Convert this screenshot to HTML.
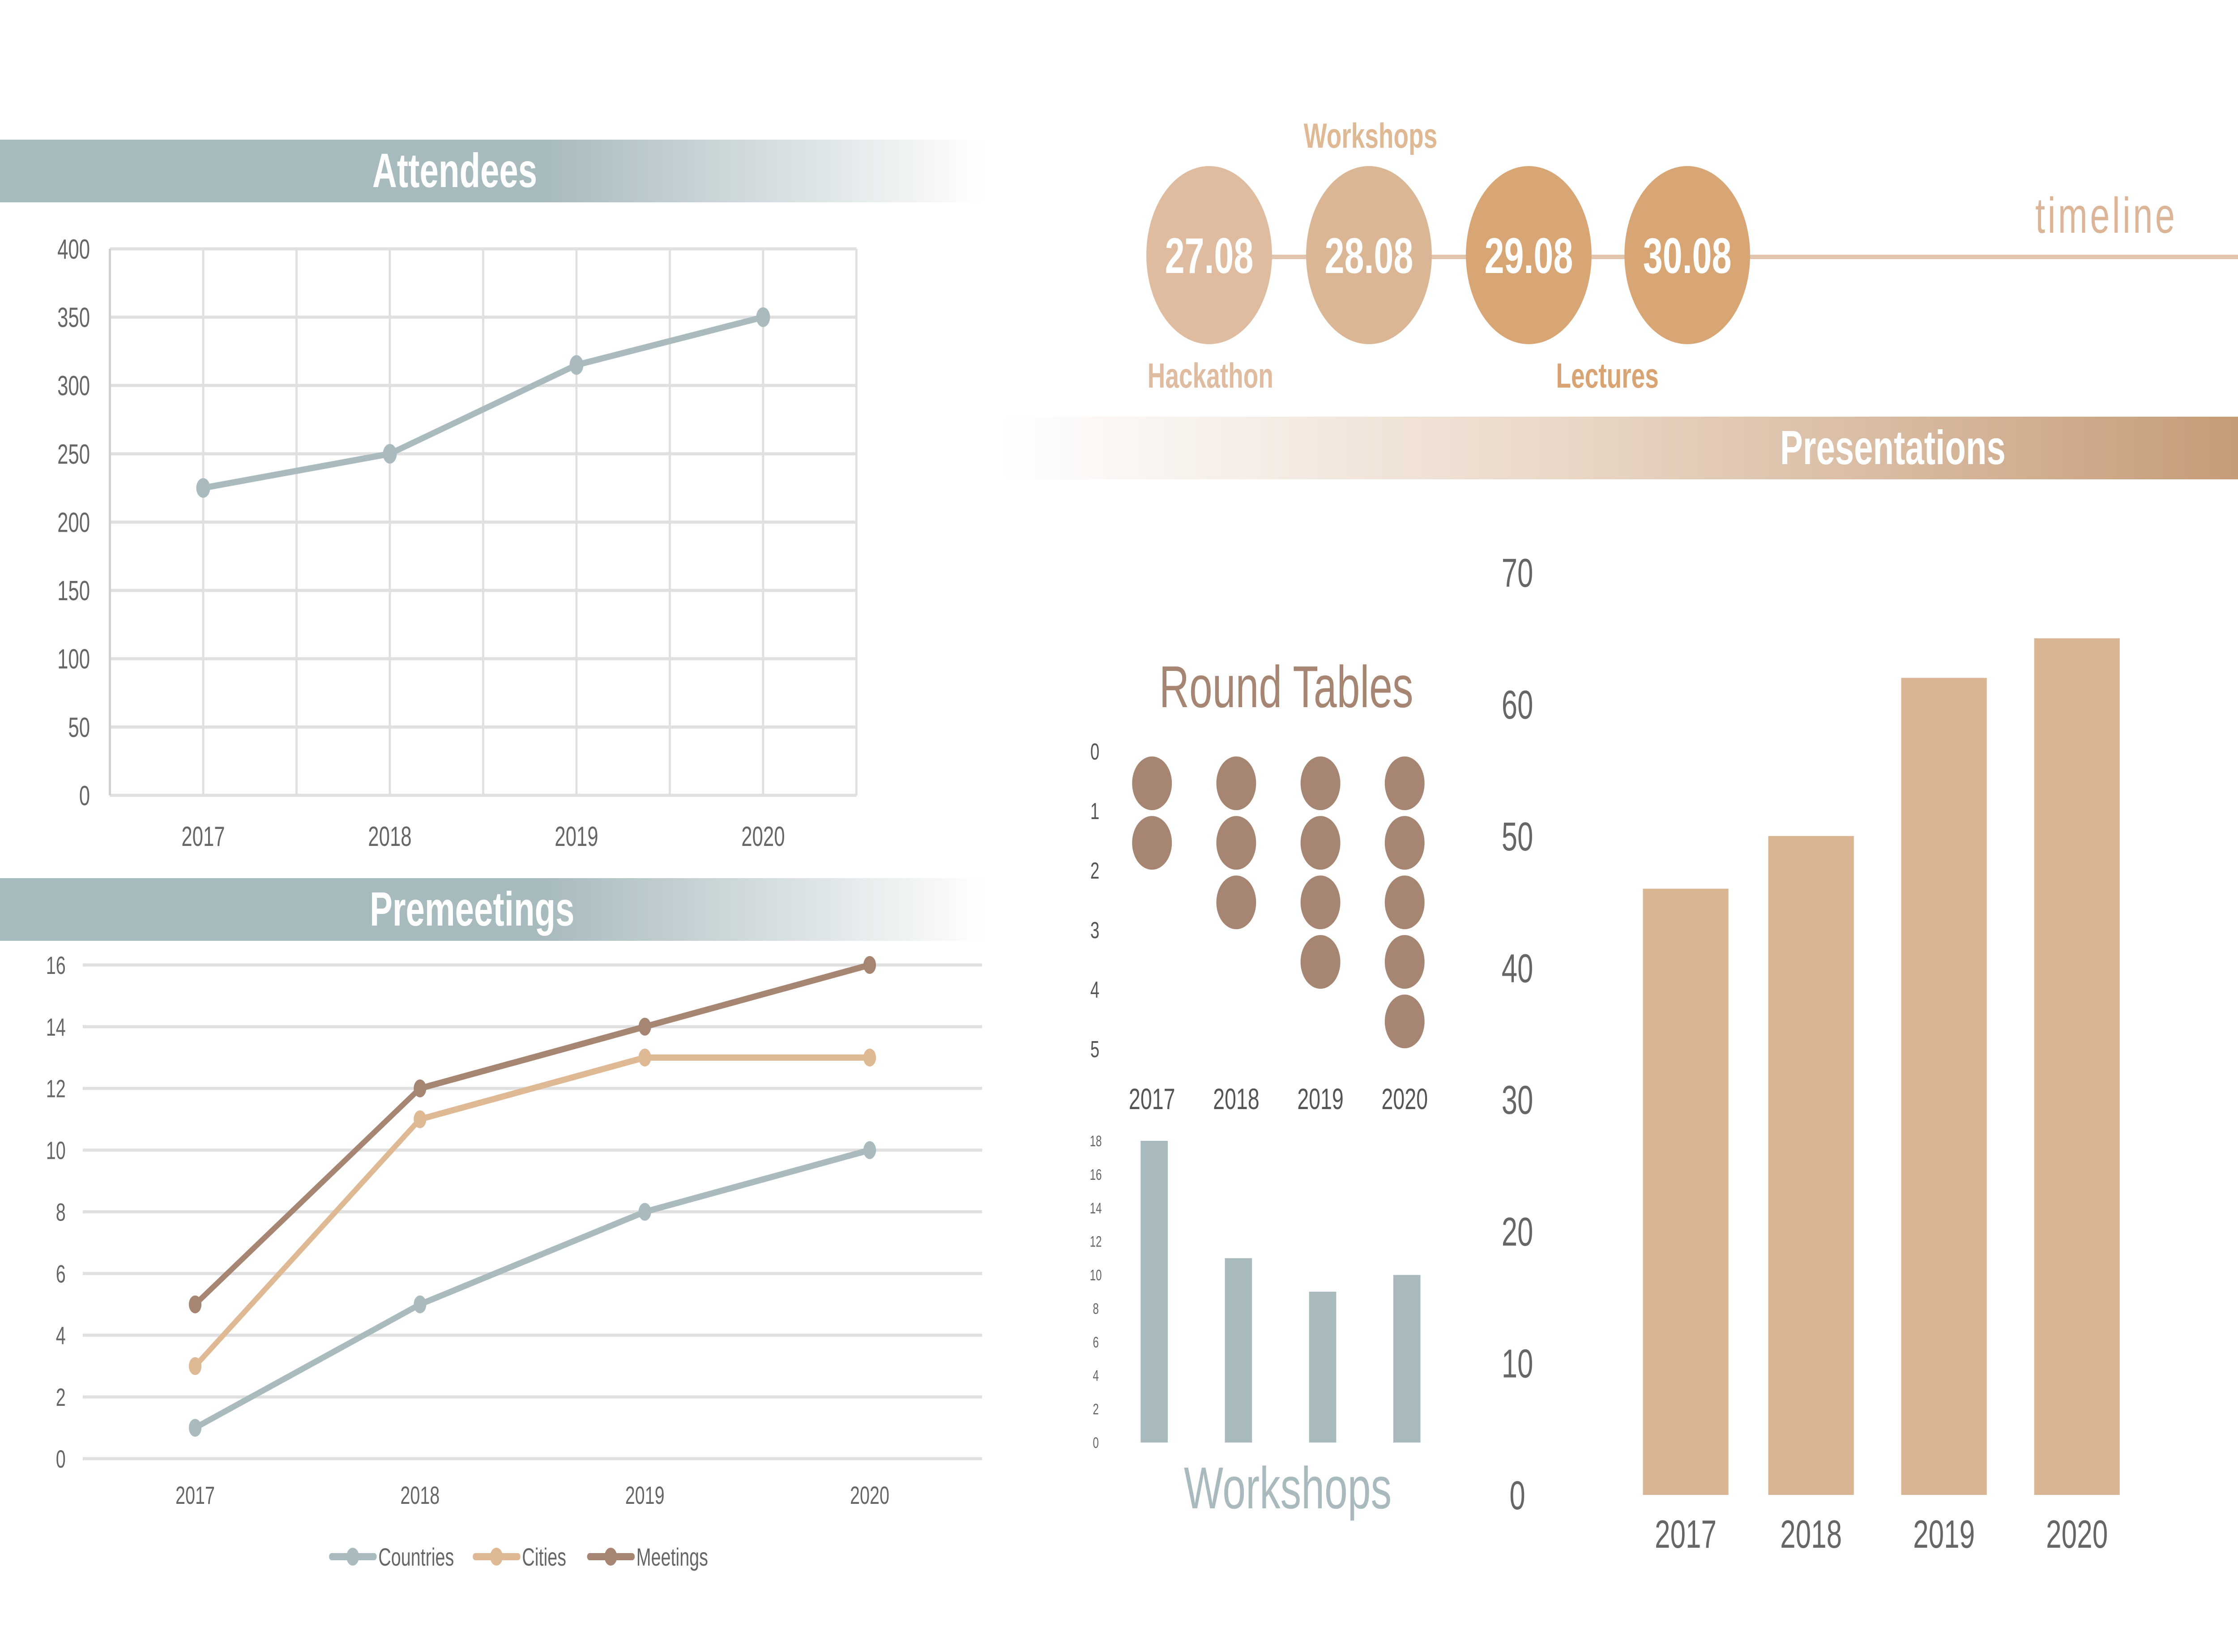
<!DOCTYPE html>
<html><head><meta charset="utf-8"><meta name="viewport" content="width=7087, height=3691, initial-scale=1"><style>
html,body{margin:0;padding:0;background:#fff;width:100%;height:100%;overflow:hidden}
svg{display:block;position:absolute;left:0;top:0;width:100vw;height:100vh}
text{font-family:"Liberation Sans",sans-serif}
</style></head><body>
<svg id="s" viewBox="0 0 7087 3691" preserveAspectRatio="none" xmlns="http://www.w3.org/2000/svg">
<defs>
<linearGradient id="gBlue" x1="0" x2="1" y1="0" y2="0"><stop offset="0" stop-color="#a7babe"/><stop offset="0.55" stop-color="#a7babe"/><stop offset="1" stop-color="#ffffff"/></linearGradient>
<linearGradient id="gTan" x1="0" x2="1" y1="0" y2="0"><stop offset="0" stop-color="#ffffff"/><stop offset="0.45" stop-color="#ead8c8"/><stop offset="1" stop-color="#c69c77"/></linearGradient>
</defs>
<rect x="0" y="312" width="3120" height="140" fill="url(#gBlue)"/>
<text x="1440" y="418" font-size="108" font-weight="bold" fill="#fff" text-anchor="middle">Attendees</text>
<rect x="0" y="1962" width="3120" height="140" fill="url(#gBlue)"/>
<text x="1495" y="2068" font-size="108" font-weight="bold" fill="#fff" text-anchor="middle">Premeetings</text>
<rect x="3164" y="931" width="3923" height="140" fill="url(#gTan)"/>
<text x="5994" y="1037" font-size="108" font-weight="bold" fill="#fff" text-anchor="middle">Presentations</text>
<line x1="3829" y1="574" x2="7087" y2="574" stroke="#e1c6ad" stroke-width="10"/>
<text x="6670" y="520" font-size="112" fill="#dcb497" text-anchor="middle" letter-spacing="8" font-weight="300">timeline</text>
<g id="att"></g><g id="pre"></g><g id="tl"></g><g id="rt"></g><g id="ws"></g><g id="pr"></g>
</svg>
<script>
const NS="http://www.w3.org/2000/svg";
function el(p,t,a){const e=document.createElementNS(NS,t);for(const k in a)e.setAttribute(k,a[k]);p.appendChild(e);return e;}
function tx(p,x,y,s,o){const e=el(p,'text',Object.assign({x:x,y:y},o));e.textContent=s;return e;}

const attYears=["2017","2018","2019","2020"];
const attValues=[225,250,315,350];
const attTicks=[0,50,100,150,200,250,300,350,400];
const preYears=["2017","2018","2019","2020"];
const preCountries=[1,5,8,10];
const preCities=[3,11,13,13];
const preMeetings=[5,12,14,16];
const preTicks=[0,2,4,6,8,10,12,14,16];
const tlDates=["27.08","28.08","29.08","30.08"];
const tlColors=["#dfbc9f","#dab695","#d8a574","#d8a574"];
const rtYears=["2017","2018","2019","2020"];
const rtValues=[2,3,4,5];
const rtTicks=[0,1,2,3,4,5];
const wsYears=["2017","2018","2019","2020"];
const wsValues=[18,11,9,10];
const wsTicks=[0,2,4,6,8,10,12,14,16,18];
const prYears=["2017","2018","2019","2020"];
const prValues=[46,50,62,65];
const prTicks=[0,10,20,30,40,50,60,70];

(function(){
 const g=document.getElementById('att');
 const L=348,R=2712,T=556,B=1777,max=400;
 const y=v=>B-(v/max)*(B-T);
 const step=(R-L)/attYears.length;
 const x=i=>L+step*(i+0.5);
 attTicks.forEach(t=>{
  const l=el(g,'line',{x1:L,x2:R,y1:y(t),y2:y(t),stroke:'#e0e0e0','stroke-width':7});
  
  const e=tx(g,285,y(t)+22,String(t),{'font-size':62,fill:'#666','text-anchor':'end'});
  
 });
 for(let k=0;k<=attYears.length*2;k++){
  const xx=L+step/2*k;
  const l=el(g,'line',{x1:xx,x2:xx,y1:T,y2:B,stroke:k==0?'#d0d0d0':'#e0e0e0','stroke-width':7});
  
 }
 const p=el(g,'polyline',{points:attValues.map((v,i)=>x(i)+','+y(v)).join(' '),fill:'none',stroke:'#a9bbbf','stroke-width':14});
 
 attValues.forEach((v,i)=>{
  const c=el(g,'circle',{cx:x(i),cy:y(v),r:22,fill:'#a9bbbf'});
  
  const e=tx(g,x(i),1890,attYears[i],{'font-size':62,fill:'#666','text-anchor':'middle'});
  
 });
})();

(function(){
 const g=document.getElementById('pre');
 const L=262,R=3110,T=2156,B=3259,max=16;
 const y=v=>B-(v/max)*(B-T);
 const step=(R-L)/preYears.length;
 const x=i=>L+step*(i+0.5);
 preTicks.forEach(t=>{
  const l=el(g,'line',{x1:L,x2:R,y1:y(t),y2:y(t),stroke:'#e0e0e0','stroke-width':7});
  
  const e=tx(g,208,y(t)+20,String(t),{'font-size':56,fill:'#666','text-anchor':'end'});
  
 });
 preYears.forEach((yr,i)=>{
  const e=tx(g,x(i),3360,yr,{'font-size':56,fill:'#666','text-anchor':'middle'});
  
 });
 const series=[[preCountries,'#a9bbbf','countries'],[preCities,'#dfb894','cities'],[preMeetings,'#a68572','meetings']];
 series.forEach(([vals,col,nm])=>{
  const p=el(g,'polyline',{points:vals.map((v,i)=>x(i)+','+y(v)).join(' '),fill:'none',stroke:col,'stroke-width':14});
  
  vals.forEach((v,i)=>{
   const c=el(g,'circle',{cx:x(i),cy:y(v),r:20,fill:col});
   
  });
 });
 const leg=[['Countries','#a9bbbf',1050],['Cities','#dfb894',1505],['Meetings','#a68572',1867]];
 leg.forEach(([n,col,lx])=>{
  const lg=el(g,'g',{});
  
  el(lg,'line',{x1:lx,x2:lx+135,y1:3478,y2:3478,stroke:col,'stroke-width':16,'stroke-linecap':'round'});
  el(lg,'circle',{cx:lx+67,cy:3478,r:20,fill:col});
  tx(lg,lx+148,3498,n,{'font-size':56,fill:'#666'});
 });
})();

(function(){
 const g=document.getElementById('tl');
 const cx=[3829,4335,4841,5343];
 tlDates.forEach((d,i)=>{
  const c=el(g,'circle',{cx:cx[i],cy:570,r:199,fill:tlColors[i]});
  
  const e=tx(g,cx[i],610,d,{'font-size':112,'font-weight':'bold',fill:'#fff','text-anchor':'middle'});
  
 });
 const labs=[['Workshops',4340,330,'#dfb894'],['Hackathon',3833,866,'#dfbc9f'],['Lectures',5090,866,'#d8a474']];
 labs.forEach(([t,lx,ly,col])=>{
  const e=tx(g,lx,ly,t,{'font-size':78,'font-weight':'bold',fill:col,'text-anchor':'middle'});
  
 });
})();

(function(){
 const g=document.getElementById('rt');
 const t=tx(g,4073,1580,'Round Tables',{'font-size':132,fill:'#a68572','text-anchor':'middle'});
 
 const x0=3648,dx=266.7,y0=1677,dy=133;
 rtTicks.forEach(v=>{
  const e=tx(g,3467,y0+v*dy+20,String(v),{'font-size':52,fill:'#555','text-anchor':'middle'});
  
 });
 rtValues.forEach((v,i)=>{
  for(let k=0;k<v;k++){
   const c=el(g,'ellipse',{cx:x0+dx*i,cy:y0+dy*(k+0.55),rx:63,ry:60,fill:'#a68572'});
   
  }
  const e=tx(g,x0+dx*i,2478,rtYears[i],{'font-size':66,fill:'#555','text-anchor':'middle'});
  
 });
})();

(function(){
 const g=document.getElementById('ws');
 const B=3223,T=2549,max=18,x0=3655,dx=266.7,w=86;
 const y=v=>B-(v/max)*(B-T);
 wsTicks.forEach(t=>{
  const e=tx(g,3470,y(t)+12,String(t),{'font-size':34,fill:'#666','text-anchor':'middle','font-family':'Liberation Serif'});
  
 });
 wsValues.forEach((v,i)=>{
  const r=el(g,'rect',{x:x0+dx*i-w/2,y:y(v),width:w,height:B-y(v),fill:'#a9babe'});
  
 });
 const t=tx(g,4078,3370,'Workshops',{'font-size':132,fill:'#a9babe','text-anchor':'middle'});
 
})();

(function(){
 const g=document.getElementById('pr');
 const B=3340,T=1279,max=70;
 const y=v=>B-(v/max)*(B-T);
 const cx=[5338,5735,6156,6577],w=271;
 prTicks.forEach(t=>{
  const e=tx(g,4805,y(t)+32,String(t),{'font-size':90,fill:'#666','text-anchor':'middle'});
  
 });
 prValues.forEach((v,i)=>{
  const r=el(g,'rect',{x:cx[i]-w/2,y:y(v),width:w,height:B-y(v),fill:'#dab594'});
  
  const e=tx(g,cx[i],3458,prYears[i],{'font-size':88,fill:'#666','text-anchor':'middle'});
  
 });
})();
</script>
</body></html>
